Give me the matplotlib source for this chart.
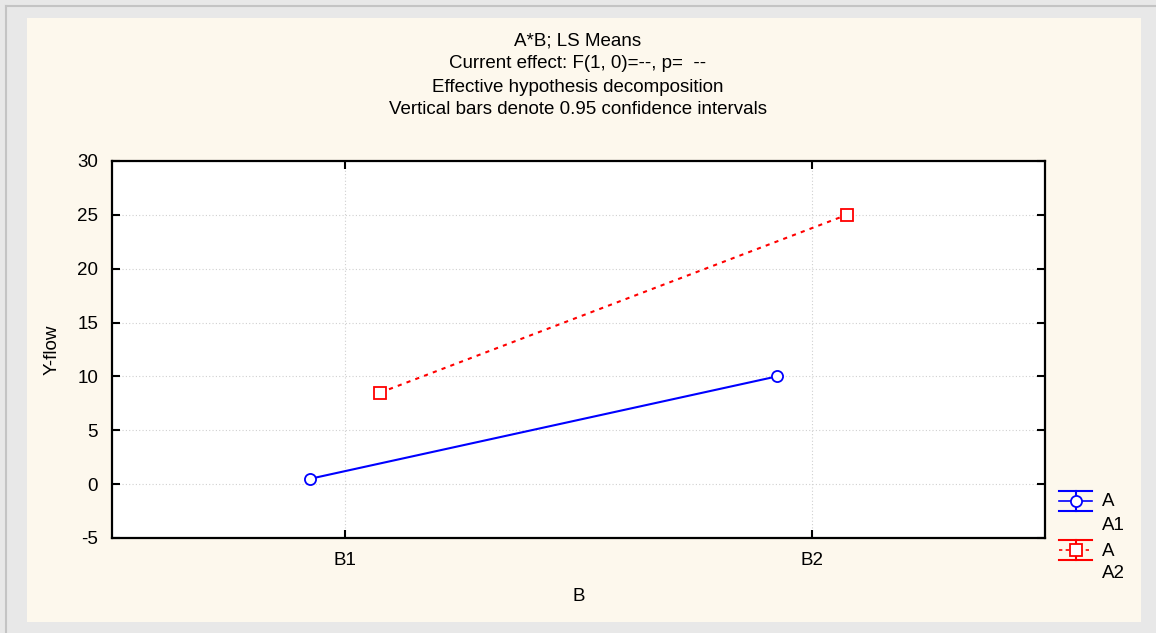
import matplotlib
matplotlib.use('Agg')
import matplotlib.pyplot as plt
from matplotlib.lines import Line2D
from matplotlib.patches import Rectangle
import numpy as np

plt.rcParams['font.family'] = ['Liberation Sans', 'DejaVu Sans']
plt.rcParams['axes.unicode_minus'] = False

#
# Data
b_levels = ['B1', 'B2']
a1_means = [0.5, 10.0]
a2_means = [8.5, 25.0]
y_ticks = [-5, 0, 5, 10, 15, 20, 25, 30]
title_lines = ['A*B; LS Means',
               'Current effect: F(1, 0)=--, p=  --',
               'Effective hypothesis decomposition',
               'Vertical bars denote 0.95 confidence intervals']

W, H = 1156, 633
fig = plt.figure(figsize=(W / 100, H / 100), dpi=100)
fig.patch.set_facecolor('#e8e8e8')


def fx(px):
    return px / W


def fy(py):
    return 1 - py / H


#
# Outer frame and cream panel
fig.add_artist(Line2D([fx(6), fx(6)], [fy(6), fy(633)], color='#c4c4c4', lw=1.5,
                      transform=fig.transFigure))
fig.add_artist(Line2D([fx(6), fx(1156)], [fy(6), fy(6)], color='#c4c4c4', lw=1.5,
                      transform=fig.transFigure))
fig.add_artist(Rectangle((fx(27), fy(622)), fx(1141) - fx(27), fy(18) - fy(622),
                         facecolor='#fdf8ed', edgecolor='none', transform=fig.transFigure,
                         zorder=0))

ax = fig.add_axes([fx(112), fy(538), fx(1045) - fx(112), fy(161) - fy(538)])
ax.set_facecolor('white')

x = np.arange(1, len(b_levels) + 1)
offset = 0.075
ax.plot(x - offset, a1_means, color='#0000ff', lw=1.5, marker='o', markersize=8,
        markerfacecolor='white', markeredgecolor='#0000ff', markeredgewidth=1.3, zorder=3)
ax.plot(x + offset, a2_means, color='#ff0000', lw=1.5, linestyle=(0, (2, 2.5)), marker='s',
        markersize=8, markerfacecolor='white', markeredgecolor='#ff0000',
        markeredgewidth=1.3, zorder=3)

ax.set_xlim(0.5, 2.5)
ax.set_ylim(-5, 30)
ax.set_xticks(x)
ax.set_xticklabels(b_levels)
ax.set_yticks(y_ticks)
ax.tick_params(direction='in', length=6, width=1.5, top=True, right=True,
               labelsize=13.5, pad=10)
ax.grid(True, color='#d0d0d0', linestyle=(0, (1, 2)), lw=0.8)
for s in ax.spines.values():
    s.set_linewidth(1.6)

ax.set_xlabel('B', fontsize=13.5, labelpad=14)
ax.set_ylabel('Y-flow', fontsize=13.5, labelpad=12)

#
# Multi-line header
for i, t in enumerate(title_lines):
    fig.text(fx(578), fy(41 + 23 * i), t, ha='center', va='center', fontsize=13.5)

#
# Legend drawn by hand (Statistica style)
entries = [('#0000ff', '-', 'o', 'A', 'A1', 501),
           ('#ff0000', (0, (2, 2)), 's', 'A', 'A2', 550)]
for color, ls, mk, l1, l2, yc in entries:
    tr = fig.transFigure
    fig.add_artist(Line2D([fx(1059), fx(1092)], [fy(yc - 10), fy(yc - 10)], color=color,
                          lw=1.5, transform=tr))
    fig.add_artist(Line2D([fx(1059), fx(1092)], [fy(yc + 10), fy(yc + 10)], color=color,
                          lw=1.5, transform=tr))
    fig.add_artist(Line2D([fx(1075.5), fx(1075.5)], [fy(yc - 10), fy(yc + 10)], color=color,
                          lw=1.5, transform=tr))
    fig.add_artist(Line2D([fx(1059), fx(1092)], [fy(yc), fy(yc)], color=color, lw=1.2,
                          linestyle=ls, transform=tr))
    fig.add_artist(Line2D([fx(1075.5)], [fy(yc)], color=color, marker=mk, markersize=8,
                          markerfacecolor='white', markeredgewidth=1.3, transform=tr))
    fig.text(fx(1102), fy(yc + 1), l1, ha='left', va='center', fontsize=13.5)
    fig.text(fx(1102), fy(yc + 24), l2, ha='left', va='center', fontsize=13.5)

fig.savefig('out.png', dpi=100, facecolor=fig.get_facecolor())
